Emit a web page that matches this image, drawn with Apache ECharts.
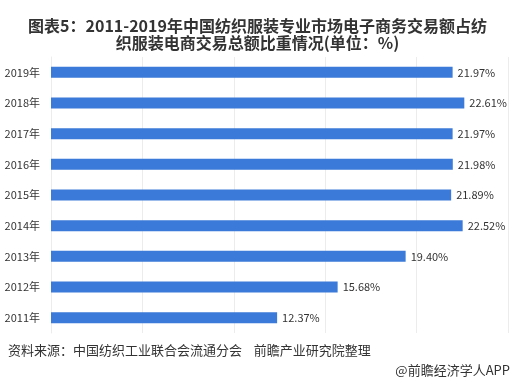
<!DOCTYPE html>
<html><head><meta charset="utf-8">
<script src="https://cdn.jsdelivr.net/npm/echarts@6/dist/echarts.min.js"></script>
<style>html,body{margin:0;padding:0;background:#fff}#c{width:515px;height:385px}</style>
</head><body><div id="c"></div>
<script>
const categories = ['2011年','2012年','2013年','2014年','2015年','2016年','2017年','2018年','2019年'];
const values = [12.37, 15.68, 19.40, 22.52, 21.89, 21.98, 21.97, 22.61, 21.97];
const titleText = '图表5：2011-2019年中国纺织服装专业市场电子商务交易额占纺\n织服装电商交易总额比重情况(单位：%)';
const sourceText = '资料来源：中国纺织工业联合会流通分会    前瞻产业研究院整理';
const brandText = '@前瞻经济学人APP';
const font = '"Noto Sans CJK SC", "Noto Sans", sans-serif';

const chart = echarts.init(document.getElementById('c'));
chart.setOption({
  animation: false,
  title: {
    text: titleText, left: 'center', top: 12,
    textStyle: { fontFamily: font, fontSize: 16, fontWeight: 'bold', color: '#333', lineHeight: 17 }
  },
  grid: { left: 51, right: 7, top: 57, bottom: 52, containLabel: false },
  xAxis: {
    type: 'value', min: 0, max: 25, interval: 5,
    axisLabel: { show: false }, axisTick: { show: false }, axisLine: { show: false },
    splitLine: { show: true, lineStyle: { color: '#ececec', width: 1 } }
  },
  yAxis: {
    type: 'category', data: categories,
    axisTick: { show: false },
    axisLine: { show: true, lineStyle: { color: '#ececec' } },
    axisLabel: { fontFamily: font, fontSize: 11, color: '#333', margin: 11 }
  },
  series: [{
    type: 'bar', data: values, barWidth: 11,
    itemStyle: { color: '#3c7ad9' },
    label: { show: true, position: 'right', distance: 5, formatter: p => p.value.toFixed(2) + '%',
      fontFamily: font, fontSize: 11, color: '#333' }
  }],
  graphic: [
    { type: 'text', left: 8, top: 344, style: { text: sourceText, fontFamily: font, fontSize: 13, fill: '#333' } },
    { type: 'text', right: 5, top: 364, style: { text: brandText, fontFamily: font, fontSize: 13, fill: '#333' } }
  ]
});
</script></body></html>
